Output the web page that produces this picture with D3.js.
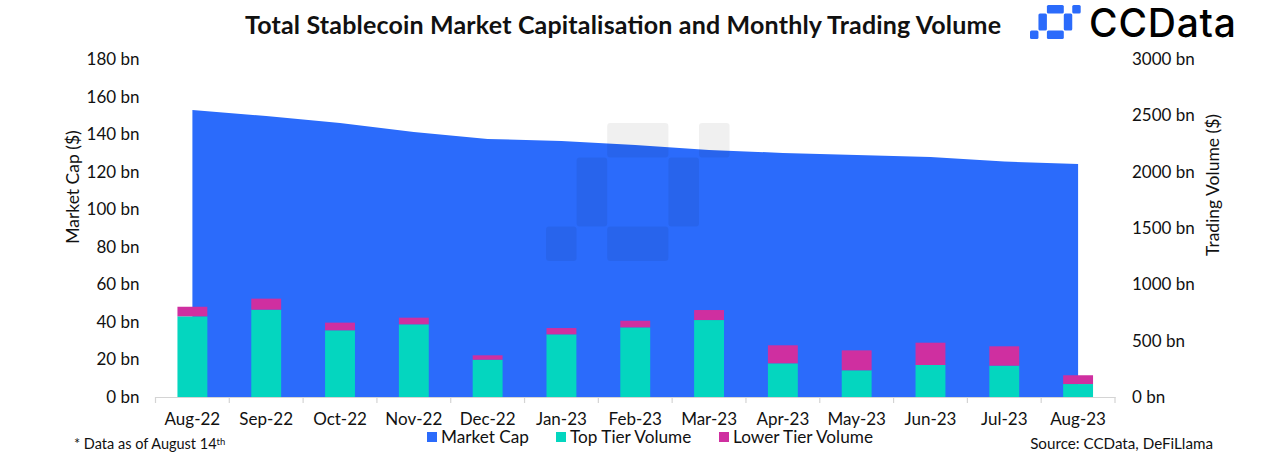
<!DOCTYPE html>
<html>
<head>
<meta charset="utf-8">
<script src="https://cdn.jsdelivr.net/npm/d3@7"></script>
<style>
  html, body { margin: 0; padding: 0; background: #fff; }
  svg { display: block; }
  text { font-family: Lato, "Noto Sans", sans-serif; fill: #111; }
</style>
</head>
<body>
<svg id="chart" width="1280" height="455"></svg>
<script>
const months = ['Aug-22', 'Sep-22', 'Oct-22', 'Nov-22', 'Dec-22', 'Jan-23', 'Feb-23', 'Mar-23', 'Apr-23', 'May-23', 'Jun-23', 'Jul-23', 'Aug-23'];
const marketCap = [152.8, 149.6, 145.9, 141.1, 137.4, 136.3, 134.2, 131.5, 130, 128.9, 127.8, 125.4, 124.1];
const topTier = [716, 775, 592, 645, 331, 556, 618, 683, 299, 237, 284, 278, 115];
const lowerTier = [85, 98, 68, 59, 39, 56, 59, 89, 160, 177, 198, 172, 78];
const capTicks = [0, 20, 40, 60, 80, 100, 120, 140, 160, 180];
const volumeTicks = [0, 500, 1000, 1500, 2000, 2500, 3000];
const legendItems = ['Market Cap', 'Top Tier Volume', 'Lower Tier Volume'];
// logo shape, as [column, row, columns wide, rows tall]
const logoCells = [[2, 0, 2, 1], [5, 0, 1, 1], [1, 1, 1, 2], [4, 1, 1, 2], [2, 3, 2, 1], [0, 3, 1, 1]];

const colors = { cap: '#2b6bfb', top: '#04d6bf', lower: '#cf2fa0', axis: '#d4d4d4' };

const svg = d3.select('#chart');
const plot = { left: 155.5, right: 1115, top: 59, bottom: 397 };

const x = d3.scaleBand().domain(months).range([plot.left, plot.right]);
const yCap = d3.scaleLinear().domain([0, 180]).range([plot.bottom, plot.top]);
const yVol = d3.scaleLinear().domain([0, 3000]).range([plot.bottom, plot.top]);
const barWidth = x.step() * 0.405;
const mid = d => x(d) + x.bandwidth() / 2;

function drawLogo(g, x0, y0, cellW, cellH, fill, opacity, radius) {
  const cx = d3.scaleLinear().domain([0, 6]).range([x0, x0 + cellW * 6]);
  const cy = d3.scaleLinear().domain([0, 4]).range([y0, y0 + cellH * 4]);
  g.selectAll('rect').data(logoCells).enter().append('rect')
    .attr('x', d => cx(d[0]))
    .attr('y', d => cy(d[1]))
    .attr('width', d => cx(d[2]) - cx(0))
    .attr('height', d => cy(d[3]) - cy(0))
    .attr('rx', radius)
    .attr('fill', fill)
    .attr('opacity', opacity);
}

// market cap area
const area = d3.area()
  .x((d, i) => mid(months[i]))
  .y0(plot.bottom)
  .y1(d => yCap(d));
svg.append('path').datum(marketCap).attr('d', area).attr('fill', colors.cap);

// watermark sits over the area
drawLogo(svg.append('g'), 546, 123, 30.6, 34.5, '#000', 0.06, 3);

// stacked bars
months.forEach((m, i) => {
  svg.append('rect')
    .attr('x', mid(m) - barWidth / 2)
    .attr('width', barWidth)
    .attr('y', yVol(topTier[i]))
    .attr('height', yVol(0) - yVol(topTier[i]))
    .attr('fill', colors.top);
  svg.append('rect')
    .attr('x', mid(m) - barWidth / 2)
    .attr('width', barWidth)
    .attr('y', yVol(topTier[i] + lowerTier[i]))
    .attr('height', yVol(topTier[i]) - yVol(topTier[i] + lowerTier[i]))
    .attr('fill', colors.lower);
});

// axes
const xAxis = svg.append('g')
  .attr('transform', `translate(0,${plot.bottom})`)
  .call(d3.axisBottom(x).tickSize(0).tickPadding(16));
xAxis.select('.domain').attr('stroke', colors.axis).attr('stroke-width', 1.2);
xAxis.selectAll('text').style('font-size', '17px');
d3.range(months.length + 1).forEach(i => {
  xAxis.append('line')
    .attr('x1', plot.left + i * x.step()).attr('x2', plot.left + i * x.step())
    .attr('y1', 0).attr('y2', 6)
    .attr('stroke', colors.axis).attr('stroke-width', 1.2);
});

const capAxis = svg.append('g')
  .attr('transform', `translate(${plot.left},0)`)
  .call(d3.axisLeft(yCap).tickValues(capTicks).tickSize(0).tickPadding(16).tickFormat(d => d + ' bn'));
capAxis.select('.domain').remove();
capAxis.selectAll('text').style('font-size', '17px');

const volAxis = svg.append('g')
  .attr('transform', `translate(${plot.right},0)`)
  .call(d3.axisRight(yVol).tickValues(volumeTicks).tickSize(0).tickPadding(17).tickFormat(d => d + ' bn'));
volAxis.select('.domain').remove();
volAxis.selectAll('text').style('font-size', '17px');

svg.append('text')
  .attr('transform', 'translate(79,187) rotate(-90)')
  .attr('text-anchor', 'middle')
  .style('font-size', '17.5px')
  .text('Market Cap ($)');

svg.append('text')
  .attr('transform', 'translate(1219,185) rotate(-90)')
  .attr('text-anchor', 'middle')
  .style('font-size', '17.5px')
  .text('Trading Volume ($)');

// title and logo
svg.append('text')
  .attr('x', 623).attr('y', 34)
  .attr('text-anchor', 'middle')
  .attr('textLength', 756)
  .style('font-size', '25px')
  .style('font-weight', 700)
  .text('Total Stablecoin Market Capitalisation and Monthly Trading Volume');

drawLogo(svg.append('g'), 1030, 5, 8.45, 8.5, colors.cap, 1, 1.5);
svg.append('text')
  .attr('x', 1089).attr('y', 37)
  .attr('textLength', 147)
  .style('font-family', 'Inter, Lato, sans-serif')
  .style('font-size', '39px')
  .style('font-weight', 500)
  .style('fill', '#000')
  .text('CCData');

// legend
const legendX = [427, 556, 719];
const legendColors = [colors.cap, colors.top, colors.lower];
legendItems.forEach((name, i) => {
  svg.append('rect')
    .attr('x', legendX[i]).attr('y', 432)
    .attr('width', 10).attr('height', 10)
    .attr('fill', legendColors[i]);
  svg.append('text')
    .attr('x', legendX[i] + 14).attr('y', 443)
    .style('font-size', '17.2px')
    .text(name);
});

// footnotes
const note = svg.append('text').attr('x', 74).attr('y', 449).style('font-size', '14.5px');
note.append('tspan').text('* Data as of August 14');
note.append('tspan').attr('dy', -4).style('font-size', '9.5px').text('th');

svg.append('text')
  .attr('x', 1213).attr('y', 449)
  .attr('text-anchor', 'end')
  .style('font-size', '15.2px')
  .text('Source: CCData, DeFiLlama');
</script>
</body>
</html>
